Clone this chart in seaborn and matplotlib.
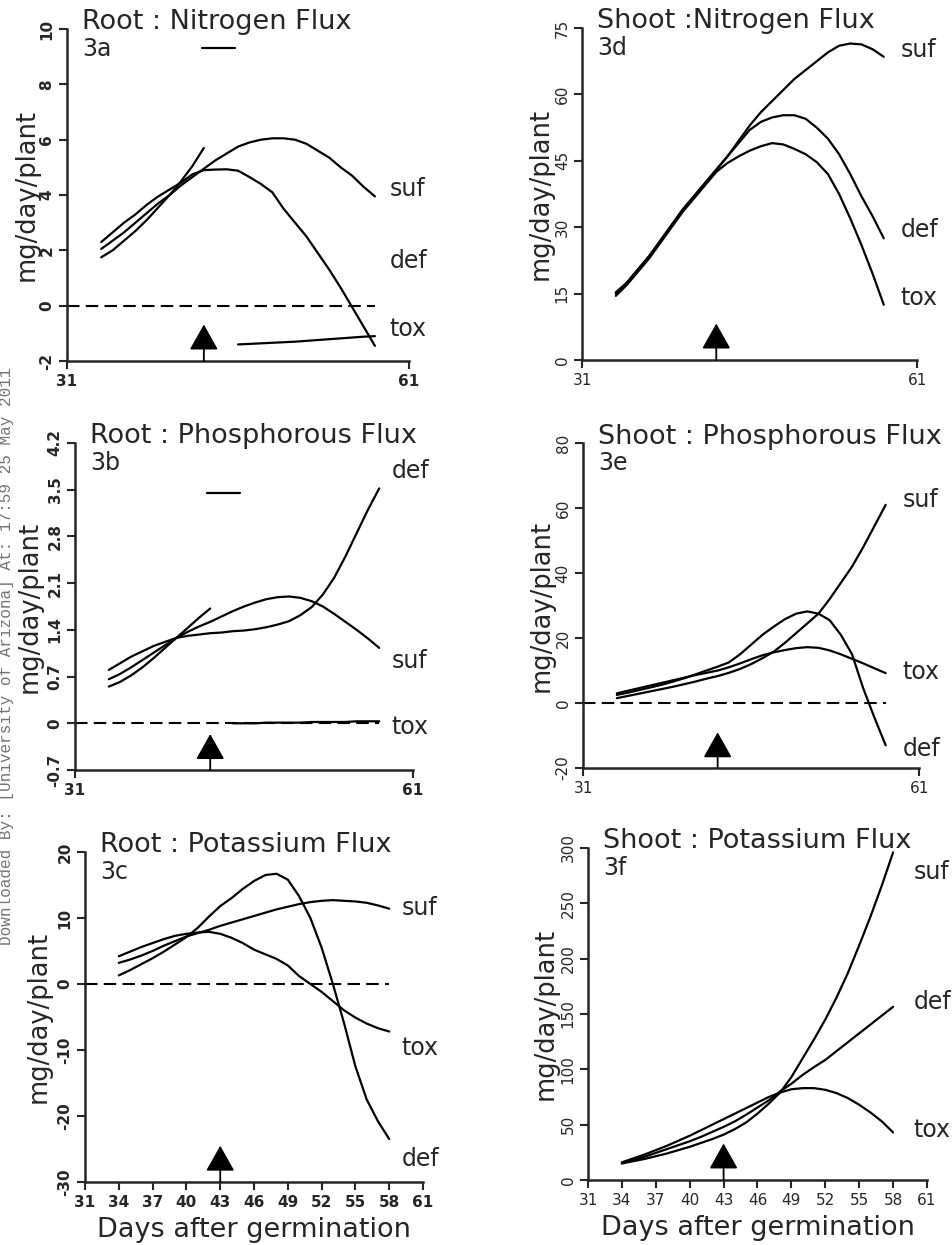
import numpy as np
import pandas as pd
import seaborn as sns
import matplotlib.pyplot as plt

nan = np.nan

# sample days shared by every curve (days after germination)
days = list(range(34, 59))
arrow_day = 43

# 3a  Root : Nitrogen flux
rn_suf = [2.05, 2.35, 2.65, 3.0, 3.35, 3.7, 4.0, 4.35, 4.65, 4.95, 5.25, 5.5, 5.75,
          5.9, 6.0, 6.05, 6.05, 6.0, 5.85, 5.6, 5.35, 5.0, 4.7, 4.3, 3.95]
rn_def = [2.3, 2.65, 3.0, 3.3, 3.65, 3.95, 4.2, 4.45, 4.75, 4.9, 4.92, 4.93, 4.88,
          4.65, 4.4, 4.1, 3.5, 3.0, 2.5, 1.9, 1.3, 0.65, -0.05, -0.75, -1.45]
rn_tox = [1.75, 2.0, 2.35, 2.7, 3.1, 3.55, 4.0, 4.5, 5.05, 5.7, nan, nan, -1.4,
          -1.38, -1.36, -1.34, -1.32, -1.3, -1.27, -1.24, -1.21, -1.18, -1.15, -1.12, -1.1]
rn_tox_jump_days = [42.8, 45.7]
rn_tox_jump = [9.3, 9.3]

# 3d  Shoot : Nitrogen flux
sn_suf = [15.3, 17.5, 20.5, 23.5, 27, 30.5, 34, 37, 40, 43, 46, 49.5, 53,
          56, 58.5, 61, 63.5, 65.5, 67.5, 69.5, 71, 71.5, 71.3, 70.2, 68.5]
sn_def = [15, 17.5, 20.5, 23.5, 27, 30.5, 34, 37, 40, 43, 46, 49, 52,
          53.8, 54.8, 55.3, 55.3, 54.5, 52.5, 50, 46.5, 42, 37, 32.5, 27.5]
sn_tox = [14.5, 17, 20, 23, 26.5, 30, 33.5, 36.5, 39.5, 42.5, 44.5, 46, 47.3,
          48.3, 49, 48.7, 47.7, 46.5, 44.7, 42, 37.5, 32, 26, 19.5, 12.5]

# 3b  Root : Phosphorous flux
rp_suf = [0.66, 0.74, 0.84, 0.95, 1.06, 1.17, 1.28, 1.37, 1.45, 1.52, 1.6, 1.68, 1.75,
          1.81, 1.86, 1.89, 1.9, 1.88, 1.83, 1.75, 1.64, 1.52, 1.4, 1.27, 1.13]
rp_def = [0.8, 0.9, 1.0, 1.08, 1.16, 1.22, 1.28, 1.31, 1.33, 1.35, 1.36, 1.38, 1.39,
          1.41, 1.44, 1.48, 1.53, 1.62, 1.74, 1.93, 2.18, 2.5, 2.85, 3.2, 3.52]
rp_tox = [0.55, 0.62, 0.72, 0.84, 0.98, 1.13, 1.28, 1.43, 1.58, 1.72, nan, 0.0, 0.0,
          0.0, 0.01, 0.01, 0.01, 0.01, 0.02, 0.02, 0.02, 0.02, 0.03, 0.03, 0.03]
rp_tox_jump_days = [42.7, 45.6]
rp_tox_jump = [3.45, 3.45]

# 3e  Shoot : Phosphorous flux
sp_suf = [1.5, 2.2, 2.9, 3.6, 4.3, 5.0, 5.8, 6.6, 7.5, 8.3, 9.3, 10.5, 12,
          13.8, 15.8, 18.5, 21.5, 24.5, 27.5, 32, 37, 42, 48, 54.5, 61]
sp_def = [2.5, 3.2, 4.0, 4.8, 5.6, 6.6, 7.6, 8.8, 10, 11.2, 12.5, 15, 18,
          21, 23.5, 25.8, 27.5, 28.2, 27.5, 25.5, 21, 15, 4.5, -4.5, -13]
sp_tox = [3.0, 3.8, 4.6, 5.4, 6.2, 7.0, 7.8, 8.6, 9.3, 10.0, 11.0, 12.2, 13.5,
          14.7, 15.6, 16.3, 16.9, 17.2, 17.0, 16.2, 15.0, 13.6, 12.2, 10.7, 9.2]

# 3c  Root : Potassium flux
rk_suf = [3.2, 3.7, 4.3, 5.0, 5.8, 6.5, 7.2, 7.7, 8.2, 8.8, 9.3, 9.8, 10.3,
          10.8, 11.3, 11.7, 12.1, 12.4, 12.6, 12.7, 12.6, 12.5, 12.3, 11.9, 11.4]
rk_def = [1.3, 2.1, 3.0, 3.9, 4.9, 6.0, 7.1, 8.5, 10.2, 11.8, 13.0, 14.4, 15.6,
          16.5, 16.7, 15.8, 13.3, 10.0, 5.5, 0.0, -6.0, -12.5, -17.5, -20.8, -23.5]
rk_tox = [4.2, 4.9, 5.6, 6.2, 6.8, 7.3, 7.6, 7.8, 7.9, 7.6, 7.0, 6.2, 5.2,
          4.5, 3.8, 2.8, 1.2, 0.0, -1.2, -2.6, -4.0, -5.1, -6.0, -6.7, -7.2]

# 3f  Shoot : Potassium flux
sk_suf = [15, 17, 19, 21.5, 24, 27, 30, 33.5, 37, 41, 46, 52, 60,
          69, 79, 93, 110, 127, 145, 165, 187, 212, 238, 266, 296]
sk_def = [15, 18, 21, 24.5, 28, 31.5, 35, 39, 43.5, 48, 53, 59, 65.5,
          72, 80, 87, 95, 102, 108.5, 116.5, 124.5, 132.5, 140.5, 148.5, 156.5]
sk_tox = [16, 19.5, 23, 27, 31, 35.5, 40, 45, 50, 55, 60, 65, 70,
          75, 79, 82, 83, 83, 81.5, 78.5, 74, 68, 61, 53, 43]

sns.set_style("ticks")
plt.rcParams['font.family'] = ['DejaVu Sans']

fig = plt.figure(figsize=(9.53, 12.45), dpi=100)


def curve_frame(curves, jump):
    rows = []
    for name, vals in curves.items():
        seg = 0
        gap = True
        for d, v in zip(days, vals):
            if np.isnan(v):
                gap = True
                continue
            if gap:
                seg += 1
                gap = False
            rows.append((d, v, f"{name}{seg}"))
    if jump is not None:
        for d, v in zip(*jump):
            rows.append((d, v, "tox_jump"))
    return pd.DataFrame(rows, columns=["day", "flux", "seg"])


def draw_panel(rect, curves, jump, zero, yticks, yticklabels, title, tag,
               label_y, label_x, bottom, bold, ylab_x):
    ax = fig.add_axes(rect)
    df = curve_frame(curves, jump)
    sns.lineplot(data=df, x="day", y="flux", units="seg", estimator=None,
                 color="black", lw=1.6, ax=ax, sort=False)
    if zero:
        ax.hlines(0, 31, 58, colors="black", lw=1.5, linestyles=(0, (6, 3)))
    ax.set_xlim(31, 61)
    ax.set_ylim(yticks[0], yticks[-1])
    ax.set_yticks(yticks)
    ax.set_yticklabels(yticklabels, rotation=90, va="center")
    if bottom:
        ax.set_xticks(range(31, 62, 3))
        ax.set_xlabel("Days after germination", fontsize=19.5)
        ax.xaxis.set_label_coords(0.5, -0.105)
    else:
        ax.set_xticks([31, 61])
        ax.set_xlabel("")
    weight = "bold" if bold else "normal"
    for t in ax.get_xticklabels() + ax.get_yticklabels():
        t.set_fontweight(weight)
        t.set_fontsize(11)
    ax.tick_params(direction="out", length=6, width=1.5, pad=3)
    ax.set_ylabel("mg/day/plant", fontsize=18.5)
    ax.yaxis.set_label_coords(ylab_x, 0.5)
    sns.despine(ax=ax)
    for sp in ("left", "bottom"):
        ax.spines[sp].set_linewidth(1.8)
    ax.text(0.045, 1.02, title, transform=ax.transAxes, fontsize=19.5, va="center")
    ax.text(0.045, 0.94, tag, transform=ax.transAxes, fontsize=17, va="center")
    for name, y in zip(["suf", "def", "tox"], label_y):
        ax.text(label_x, y, name, fontsize=17, va="center", clip_on=False)
    ax.annotate("", xy=(arrow_day, 0.11), xytext=(arrow_day, 0.0),
                xycoords=("data", "axes fraction"),
                arrowprops=dict(arrowstyle="-|>,head_length=0.8,head_width=0.45",
                                color="black", lw=1.3, mutation_scale=20,
                                shrinkA=0, shrinkB=0))
    return ax


draw_panel([0.0703, 0.710, 0.359, 0.2667],
           {"suf": rn_suf, "def": rn_def, "tox": rn_tox},
           (rn_tox_jump_days, rn_tox_jump), True,
           [-2, 0, 2, 4, 6, 8, 10], ["-2", "0", "2", "4", "6", "8", "10"],
           "Root : Nitrogen Flux", "3a", [4.2, 1.6, -0.85], 59.3, False, True, -0.079)

draw_panel([0.611, 0.7108, 0.3515, 0.2667],
           {"suf": sn_suf, "def": sn_def, "tox": sn_tox},
           None, False,
           [0, 15, 30, 45, 60, 75], ["0", "15", "30", "45", "60", "75"],
           "Shoot :Nitrogen Flux", "3d", [70, 29.3, 14], 59.5, False, False, -0.087)

draw_panel([0.0787, 0.3815, 0.3547, 0.2627],
           {"suf": rp_suf, "def": rp_def, "tox": rp_tox},
           (rp_tox_jump_days, rp_tox_jump), True,
           [-0.7, 0, 0.7, 1.4, 2.1, 2.8, 3.5, 4.2],
           ["-0.7", "0", "0.7", "1.4", "2.1", "2.8", "3.5", "4.2"],
           "Root : Phosphorous Flux", "3b", [0.93, 3.78, -0.06], 59.1, False, True, -0.095)

draw_panel([0.612, 0.3831, 0.3526, 0.261],
           {"suf": sp_suf, "def": sp_def, "tox": sp_tox},
           None, True,
           [-20, 0, 20, 40, 60, 80], ["-20", "0", "20", "40", "60", "80"],
           "Shoot : Phosphorous Flux", "3e", [62.6, -14, 9.5], 59.5, False, False, -0.086)

draw_panel([0.0892, 0.0506, 0.3547, 0.2651],
           {"suf": rk_suf, "def": rk_def, "tox": rk_tox},
           None, True,
           [-30, -20, -10, 0, 10, 20], ["-30", "-20", "-10", "0", "10", "20"],
           "Root : Potassium Flux", "3c", [11.5, -26.5, -9.7], 59.1, True, True, -0.10)

draw_panel([0.617, 0.0522, 0.3557, 0.2667],
           {"suf": sk_suf, "def": sk_def, "tox": sk_tox},
           None, False,
           [0, 50, 100, 150, 200, 250, 300], ["0", "50", "100", "150", "200", "250", "300"],
           "Shoot : Potassium Flux", "3f", [278, 161, 45], 59.8, True, False, -0.086)

fig.text(0.007, 1 - 656 / 1245, "Downloaded By: [University of Arizona] At: 17:59 25 May 2011",
         rotation=90, family="Liberation Mono", fontsize=11.5, color="0.45",
         ha="center", va="center")

fig.savefig("out.png", dpi=100)
